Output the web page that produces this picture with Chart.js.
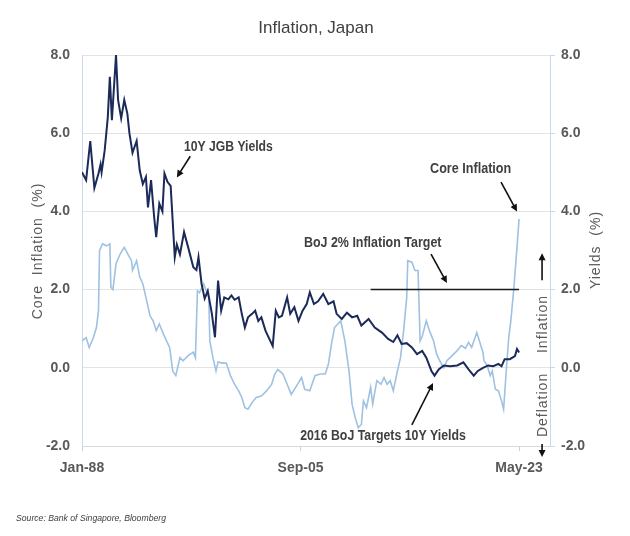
<!DOCTYPE html>
<html>
<head>
<meta charset="utf-8">
<title>Inflation, Japan</title>
<script src="https://cdn.jsdelivr.net/npm/chart.js@4.4.0/dist/chart.umd.min.js"></script>
<style>
  body { margin: 0; background: #fff; }
  canvas { display: block; }
</style>
</head>
<body>
<canvas id="myChart" width="630" height="536"></canvas>
<script>
// x values are months counted from Jan-88
const tickMonths = [0, 212, 424];
const tickLabels = ['Jan-88', 'Sep-05', 'May-23'];

const jgbMonths = [0,4,8,12,16,18,19,22,25,27,29,33,35,38,41,44,46,49,53,56,59,62,64,67,70,72,75,78,80,83,
  86,90,92,95,99,103,108,111,113,116,119,122,126,129,132,135,138,142,145,148,152,155,158,161,165,168,171,174,178,181,
  185,188,191,194,199,202,206,210,214,218,221,225,229,234,239,244,247,252,257,262,267,271,278,284,291,297,302,306,310,315,
  320,325,330,334,339,342,346,351,357,364,370,375,380,384,389,394,399,404,407,410,415,420,422,424];
const jgbYields = [5.0,4.8,5.8,4.6,4.97,5.2,5.0,5.56,6.4,7.44,6.33,8.0,6.85,6.38,6.85,6.5,6.0,5.5,5.8,5.05,
  4.7,4.88,4.1,4.8,3.85,3.34,4.2,4.0,4.97,4.75,4.65,2.83,3.15,2.9,3.47,3.08,2.57,2.5,2.83,2.15,
  1.77,1.97,1.38,0.78,2.23,1.46,1.8,1.75,1.85,1.74,1.8,1.38,1.03,1.29,1.38,1.46,1.2,1.29,0.95,0.78,
  0.56,1.46,1.29,1.33,1.8,1.38,1.55,1.2,1.46,1.63,1.93,1.63,1.7,1.89,1.63,1.7,1.38,1.25,1.41,1.29,
  1.33,1.08,1.25,1.03,0.9,0.74,0.66,0.83,0.61,0.63,0.52,0.35,0.43,0.26,-0.08,-0.2,-0.04,0.06,0.04,0.06,
  0.14,-0.04,-0.2,-0.08,0.0,0.06,0.04,0.1,0.04,0.22,0.22,0.3,0.48,0.39];

const coreMonths = [0,4,7,11,14,16,17,20,24,27,28,30,33,37,41,45,48,49,53,56,59,62,66,69,72,75,79,82,85,88,
  91,95,98,103,108,110,112,114,118,123,124,127,130,132,136,140,144,148,152,155,158,161,165,169,174,179,184,187,190,195,
  199,203,208,213,216,221,226,231,236,239,242,245,251,255,259,262,265,268,271,273,276,280,282,286,290,293,296,299,302,306,
  309,312,315,316,320,323,326,328,330,334,337,341,344,347,351,354,359,364,368,372,375,378,383,386,389,390,393,396,398,401,
  404,407,409,410,412,414,416,419,421,424];
const coreInflation = [0.69,0.77,0.52,0.77,1.03,1.46,3.0,3.17,3.12,3.17,2.06,2.0,2.66,2.91,3.08,2.88,2.74,2.49,2.74,2.32,
  2.15,1.8,1.33,1.2,0.95,1.12,0.86,0.69,0.52,-0.08,-0.2,0.26,0.18,0.31,0.4,0.26,1.97,1.92,2.15,1.8,
  0.69,0.26,-0.08,0.15,0.12,0.12,-0.2,-0.42,-0.59,-0.76,-1.02,-1.06,-0.89,-0.76,-0.72,-0.59,-0.42,-0.16,-0.04,-0.16,
  -0.42,-0.68,-0.47,-0.25,-0.55,-0.59,-0.2,-0.16,-0.16,0.09,0.61,1.03,1.2,0.69,-0.08,-0.93,-1.27,-1.53,-1.45,-0.85,
  -1.02,-0.5,-0.93,-0.33,-0.42,-0.25,-0.42,-0.33,-0.59,-0.08,0.26,0.95,1.8,2.74,2.7,2.49,2.49,0.69,0.8,1.2,
  0.95,0.69,0.35,0.18,0.0,0.18,0.31,0.44,0.57,0.5,0.65,0.52,0.9,0.65,0.39,0.18,0.06,-0.2,-0.08,-0.55,
  -0.59,-0.85,-1.06,-0.68,0.09,0.78,1.2,2.06,2.74,3.81];

// BoJ 2% target line
const targetMonths = [280, 424];
const targetLevel = [2.0, 2.0];

const FONT = "'Liberation Sans', Arial, sans-serif";
const GREY = '#595959';

let toPoints = (xs, ys) => xs.map((m, i) => ({ x: m, y: ys[i] }));

/* text squeezed sideways, the original uses a narrow face */
let narrowText = (ctx, text, x, y, sx, rot) => {
    ctx.save();
    ctx.translate(x, y);
    if (rot) ctx.rotate(rot);
    ctx.scale(sx, 1);
    ctx.fillText(text, 0, 0);
    ctx.restore();
}

let arrow = (ctx, x1, y1, x2, y2) => {
    const a = Math.atan2(y2 - y1, x2 - x1);
    ctx.beginPath();
    ctx.moveTo(x1, y1);
    ctx.lineTo(x2 - 5 * Math.cos(a), y2 - 5 * Math.sin(a));
    ctx.stroke();
    ctx.beginPath();
    ctx.moveTo(x2, y2);
    ctx.lineTo(x2 - 7 * Math.cos(a) + 3.5 * Math.sin(a), y2 - 7 * Math.sin(a) - 3.5 * Math.cos(a));
    ctx.lineTo(x2 - 7 * Math.cos(a) - 3.5 * Math.sin(a), y2 - 7 * Math.sin(a) + 3.5 * Math.cos(a));
    ctx.closePath();
    ctx.fill();
}

/* titles, notes and arrows, placed in data units */
const notes = {
    id: 'notes',
    afterDatasetsDraw(chart) {
        const { ctx, scales: { x, y } } = chart;
        const px = m => x.getPixelForValue(m);
        const py = v => y.getPixelForValue(v);
        const up = -Math.PI / 2;
        ctx.save();

        ctx.fillStyle = '#404040';
        ctx.textAlign = 'center';
        ctx.textBaseline = 'middle';
        ctx.font = '17px ' + FONT;
        ctx.fillText('Inflation, Japan', 316, 28);

        // axis titles
        ctx.fillStyle = GREY;
        ctx.font = '14px ' + FONT;
        ctx.letterSpacing = '1px';
        narrowText(ctx, 'Core  Inflation  (%)', 38, 251, 1, up);
        narrowText(ctx, 'Yields  (%)', 596, 250, 1, up);
        narrowText(ctx, 'Inflation', px(447), py(1.12), 1, up);
        narrowText(ctx, 'Deflation', px(447), py(-0.95), 1, up);
        ctx.letterSpacing = '0px';

        // notes
        ctx.fillStyle = '#404040';
        ctx.font = 'bold 14px ' + FONT;
        narrowText(ctx, '10Y JGB Yields', px(142), py(5.65), 0.87);
        narrowText(ctx, 'Core Inflation', px(377), py(5.09), 0.9);
        narrowText(ctx, 'BoJ 2% Inflation Target', px(282), py(3.19), 0.89);
        narrowText(ctx, '2016 BoJ Targets 10Y Yields', px(292), py(-1.74), 0.88);

        ctx.strokeStyle = '#111';
        ctx.fillStyle = '#111';
        ctx.lineWidth = 1.6;
        arrow(ctx, px(105), py(5.41), px(92), py(4.87));
        arrow(ctx, px(406.5), py(4.75), px(422), py(4.0));
        arrow(ctx, px(338.6), py(2.91), px(354), py(2.17));
        arrow(ctx, px(320), py(-1.46), px(340.5), py(-0.39));
        arrow(ctx, px(446.3), py(2.24), px(446.3), py(2.93));
        arrow(ctx, px(446.3), py(-1.95), px(446.3), py(-2.28));

        ctx.textAlign = 'left';
        ctx.fillStyle = '#404040';
        ctx.font = 'italic 9.5px ' + FONT;
        narrowText(ctx, 'Source: Bank of Singapore, Bloomberg', 16, 518, 0.91);
        ctx.restore();
    }
};

const ctx = document.getElementById('myChart');

const dataset = {
    datasets: [{
        label: '10Y JGB Yields',
        data: toPoints(jgbMonths, jgbYields),
        yAxisID: 'y1',
        borderColor: '#1b2a59',
        borderWidth: 2,
        order: 1
    }, {
        label: 'BoJ 2% Inflation Target',
        data: toPoints(targetMonths, targetLevel),
        yAxisID: 'y',
        borderColor: '#1a1a1a',
        borderWidth: 1.5,
        order: 0
    }, {
        label: 'Core Inflation',
        data: toPoints(coreMonths, coreInflation),
        yAxisID: 'y',
        borderColor: '#9fc1e2',
        borderWidth: 1.6,
        order: 2
    }]
};

const tickFont = { family: FONT, size: 14, weight: 'bold' };

const config = {
    type: 'line',
    data: dataset,
    options: {
        responsive: false,
        animation: false,
        devicePixelRatio: 1,
        layout: { padding: { top: 55, left: 0, right: 0, bottom: 0 } },
        elements: { point: { radius: 0 }, line: { tension: 0 } },
        plugins: { legend: { display: false }, title: { display: false }, tooltip: { enabled: false } },
        scales: {
            x: {
                type: 'linear',
                min: 0,
                max: 454,
                afterBuildTicks: axis => { axis.ticks = tickMonths.map(v => ({ value: v })); },
                afterFit: axis => { axis.height = 90; },
                ticks: {
                    autoSkip: false,
                    maxRotation: 0,
                    padding: 9,
                    color: GREY,
                    font: tickFont,
                    callback: v => tickLabels[tickMonths.indexOf(v)]
                },
                grid: { drawOnChartArea: false, drawTicks: true, tickLength: 5, color: '#d0d0d0' },
                border: { color: '#d9d9d9' }
            },
            y: {
                position: 'left',
                min: -2,
                max: 8,
                afterFit: axis => { axis.width = 82; },
                ticks: { stepSize: 2, padding: 12, color: GREY, font: tickFont, callback: v => v.toFixed(1) },
                grid: { color: '#e3e3e3', drawTicks: false },
                border: { color: '#c6d9ee' }
            },
            y1: {
                position: 'right',
                min: -2,
                max: 8,
                afterFit: axis => { axis.width = 80; },
                ticks: { stepSize: 2, padding: 6, color: GREY, font: tickFont, callback: v => v.toFixed(1) },
                grid: { drawOnChartArea: false, tickLength: 5, color: '#c6d9ee' },
                border: { color: '#c6d9ee' }
            }
        }
    },
    plugins: [notes]
};

const chart = new Chart(ctx, config);
</script>
</body>
</html>
